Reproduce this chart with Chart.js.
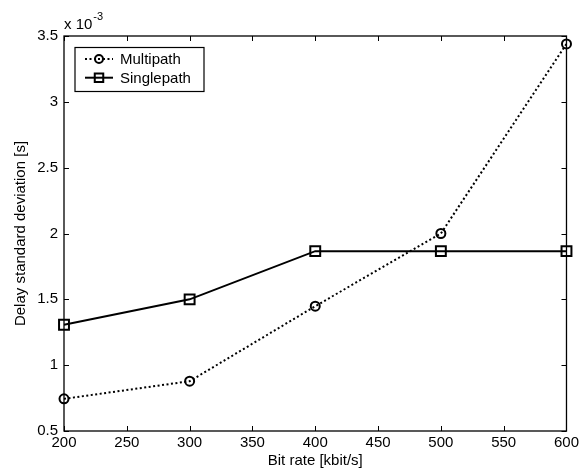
<!DOCTYPE html>
<html>
<head>
<meta charset="utf-8">
<script src="https://cdn.jsdelivr.net/npm/chart.js@4.4.0/dist/chart.umd.min.js"></script>
<style>
  html, body { margin: 0; padding: 0; background: #fff; }
  #wrap { width: 582px; height: 470px; }
</style>
</head>
<body>
<div id="wrap"><canvas id="chart" width="582" height="470"></canvas></div>
<script>
// values (delay std dev in units of 1e-3 s)
const bitRates = [200, 300, 400, 500, 600];
const multipath = [0.744, 0.878, 1.448, 2.0, 3.44];
const singlepath = [1.307, 1.5, 1.866, 1.866, 1.866];
const xTicks = [200, 250, 300, 350, 400, 450, 500, 550, 600];
const yTicks = [0.5, 1, 1.5, 2, 2.5, 3, 3.5];

const FONT = 'Liberation Sans, Arial, Helvetica, sans-serif';
const FS = 15;

// inner tick marks, axes box, exponent label and legend
const matlabAxes = {
    id: 'matlabAxes',
    afterDraw(chart) {
        const ctx = chart.ctx;
        const a = chart.chartArea;
        const xs = chart.scales.x;
        const ys = chart.scales.y;
        ctx.save();
        ctx.strokeStyle = '#000';
        ctx.lineWidth = 1;
        ctx.beginPath();
        xTicks.forEach(v => {
            const px = Math.round(xs.getPixelForValue(v)) + 0.5;
            ctx.moveTo(px, a.bottom); ctx.lineTo(px, a.bottom - 5);
            ctx.moveTo(px, a.top); ctx.lineTo(px, a.top + 5);
        });
        yTicks.forEach(v => {
            const py = Math.round(ys.getPixelForValue(v)) + 0.5;
            ctx.moveTo(a.left, py); ctx.lineTo(a.left + 5, py);
            ctx.moveTo(a.right, py); ctx.lineTo(a.right - 5, py);
        });
        ctx.stroke();
        ctx.lineWidth = 1.3;
        ctx.strokeRect(a.left, a.top, a.right - a.left, a.bottom - a.top);

        // exponent
        ctx.fillStyle = '#000';
        ctx.textBaseline = 'alphabetic';
        ctx.textAlign = 'left';
        ctx.font = FS + 'px ' + FONT;
        ctx.fillText('x 10', a.left, 29);
        const w = ctx.measureText('x 10').width;
        ctx.font = '11px ' + FONT;
        ctx.fillText('-3', a.left + w + 1, 20);

        // legend
        const lx = 75, ly = 47.5, lw = 129, lh = 44;
        ctx.fillStyle = '#fff';
        ctx.fillRect(lx, ly, lw, lh);
        ctx.lineWidth = 1.2;
        ctx.strokeStyle = '#000';
        ctx.strokeRect(lx, ly, lw, lh);
        chart.data.datasets.forEach((ds, i) => {
            const y = ly + 11.5 + i * 18.7;
            ctx.save();
            ctx.lineWidth = ds.borderWidth;
            ctx.setLineDash(ds.borderDash || []);
            ctx.beginPath();
            ctx.moveTo(lx + 10, y);
            ctx.lineTo(lx + 38, y);
            ctx.stroke();
            ctx.restore();
            ctx.save();
            ctx.lineWidth = ds.pointBorderWidth;
            ctx.fillStyle = '#fff';
            Chart.helpers.drawPoint(ctx, {
                pointStyle: ds.pointStyle,
                radius: ds.pointStyle === 'circle' ? 4 : 6,
                borderWidth: ds.pointBorderWidth
            }, lx + 24, y);
            ctx.restore();
            if (ds.pointStyle === 'circle') {
                ctx.fillStyle = '#000';
                ctx.fillRect(lx + 23, y - 1, 2, 2);
            } else {
                ctx.beginPath();
                ctx.lineWidth = ds.borderWidth;
                ctx.moveTo(lx + 19, y); ctx.lineTo(lx + 29, y);
                ctx.stroke();
            }
            ctx.fillStyle = '#000';
            ctx.font = FS + 'px ' + FONT;
            ctx.textBaseline = 'middle';
            ctx.fillText(ds.label, lx + 45, y + 1);
        });
        ctx.restore();
    }
};

new Chart(document.getElementById('chart'), {
    type: 'line',
    data: {
        datasets: [
            {
                label: 'Multipath',
                data: bitRates.map((x, i) => ({ x: x, y: multipath[i] })),
                borderColor: '#000',
                borderWidth: 2,
                borderDash: [2, 2.5],
                pointStyle: 'circle',
                pointRadius: 4.5,
                pointBorderWidth: 2,
                pointBorderColor: '#000',
                pointBackgroundColor: 'rgba(0,0,0,0)',
                tension: 0,
                clip: false
            },
            {
                label: 'Singlepath',
                data: bitRates.map((x, i) => ({ x: x, y: singlepath[i] })),
                borderColor: '#000',
                borderWidth: 2,
                pointStyle: 'rect',
                pointRadius: 7,
                pointBorderWidth: 2,
                pointBorderColor: '#000',
                pointBackgroundColor: 'rgba(0,0,0,0)',
                tension: 0,
                clip: false
            }
        ]
    },
    options: {
        responsive: false,
        animation: false,
        layout: { padding: { left: 0, right: 12, top: 36, bottom: 0 } },
        plugins: {
            legend: { display: false },
            tooltip: { enabled: false }
        },
        scales: {
            x: {
                type: 'linear',
                min: 200,
                max: 600,
                afterFit: s => { s.height = 39; },
                afterBuildTicks: s => { s.ticks = xTicks.map(v => ({ value: v })); },
                grid: { display: false, drawTicks: false },
                border: { display: false },
                ticks: { color: '#000', padding: 3, maxRotation: 0, font: { family: FONT, size: FS } },
                title: {
                    display: true,
                    text: 'Bit rate [kbit/s]',
                    color: '#000',
                    padding: { top: 0, bottom: 0 },
                    font: { family: FONT, size: FS }
                }
            },
            y: {
                type: 'linear',
                min: 0.5,
                max: 3.5,
                afterFit: s => { s.width = 64; },
                afterBuildTicks: s => { s.ticks = yTicks.map(v => ({ value: v })); },
                grid: { display: false, drawTicks: false },
                border: { display: false },
                ticks: {
                    color: '#000',
                    padding: 6,
                    font: { family: FONT, size: FS },
                    callback: v => String(v)
                },
                title: {
                    display: true,
                    text: 'Delay standard deviation [s]',
                    color: '#000',
                    padding: { top: 12, bottom: 0 },
                    font: { family: FONT, size: FS }
                }
            }
        }
    },
    plugins: [matlabAxes]
});
</script>
</body>
</html>
